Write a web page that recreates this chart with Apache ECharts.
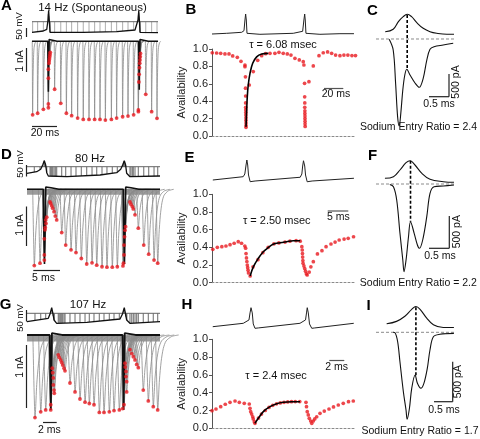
<!DOCTYPE html>
<html><head><meta charset="utf-8">
<script src="https://cdn.jsdelivr.net/npm/echarts@6/dist/echarts.min.js"></script>
<style>html,body{margin:0;padding:0;background:#fff}#c{width:480px;height:439px}</style>
</head><body><div id="c"></div>
<script>
// ================= DATA =================
// Na-current transient shape (time after peak in ms, fraction of peak)
const naTemplateT = [-0.3, 0, 0.25, 0.5, 0.8, 1.2, 2, 3];
const naTemplateF = [0, 1, 0.6, 0.35, 0.18, 0.08, 0.02, 0];

// ---- Panel A (14 Hz spontaneous) ----
const aEnd = 100.8;
const aStepV = -11;
const aPeakT = [0.5,4.5,9.1,13.1,13.1,13.1,13.1,13.6,13.8,14.0,14.2,14.4,14.6,18.1,23.0,27.5,31.7,36.5,41.0,45.6,50.1,54.4,58.7,63.5,67.7,72.5,76.8,81.3,85.1,85.1,85.5,85.7,86.0,86.2,86.4,86.6,86.8,91.0,95.7,100.0];
const aPeakI = [-3.34,-3.27,-3.09,-3.02,-2.85,-1.68,-1.27,-1.0,-0.9,-0.8,-0.7,-0.6,-0.5,-2.18,-2.82,-3.27,-3.38,-3.49,-3.55,-3.55,-3.55,-3.55,-3.58,-3.55,-3.49,-3.43,-3.40,-3.34,-3.20,-3.12,-1.85,-1.5,-1.2,-1.0,-0.85,-0.7,-0.55,-2.41,-3.2,-3.5];
const aApT = [0,9,11.8,12.8,13.3,13.8,14.4,15.8,41,67.8,82.4,84.8,85.4,85.9,86.4,87.8,100.8];
const aApV = [-64,-57.5,-49,-2.5,45,-2.5,-64,-69,-64,-61,-52.5,-2.5,42,-2.5,-64,-69,-66];
const aBlackT = [0,12.6,12.9,13.1,13.35,13.7,15,20,85.3,85.6,85.8,86.05,86.4,87.5,93,100.8];
const aBlackI = [0,0,-1.2,-2.29,-1.0,0.08,0.05,0,0,-1.1,-2.2,-1.0,0.08,0.05,0,0];

// ---- Panel B ----
const bEnd = 149;
const bT = [0.3,4.8,9.0,13.4,17.6,21.4,26.2,30.0,34.1,34.1,34.6,34.7,34.8,34.8,34.9,34.9,35.0,35.0,35.1,35.1,35.2,35.2,35.2,38.6,42.7,47.3,51.4,55.5,60,65.1,69.3,73.7,77.9,81.7,85.8,90.3,94.4,95.1,95.8,95.9,96.0,96.0,96.1,96.1,96.2,96.2,96.3,96.3,96.4,100.3,104.8,110.7,115.1,119.6,123.8,127.9,132.4,136.5,140.6,144.8,148.5];
const bA = [.957,.954,.95,.943,.943,.92,.904,.858,.816,.797,.68,.55,.46,.38,.33,.30,.27,.24,.21,.18,.15,.12,.10,.586,.74,.87,.923,.946,.95,.95,.962,.95,.943,.93,.893,.874,.854,.816,.606,.45,.38,.33,.29,.26,.23,.20,.17,.14,.11,.624,.805,.923,.957,.966,.95,.93,.923,.93,.93,.925,.925];
const bFitT = [35.2,35.9,36.5,37.5,39.3,42.1,46.2,51.4,58.2];
const bFitA = [.107,.30,.45,.586,.72,.836,.91,.943,.95];
const bApT = [0,15.2,30.7,33.1,34.1,34.8,35.5,36.2,37.5,49.6,84.1,93.8,95.1,95.9,96.5,97.2,98.6,111.7,132.4,146.9];
const bApV = [-65,-62.2,-58.2,-51.8,-9,15,-9,-62.2,-69,-66.2,-62.2,-54.2,-9,15,-9,-62.2,-69,-66.2,-63.8,-63.8];

// ---- Panel C ----
const cT = [0.33,0.43,0.49,0.54,0.58,0.62,0.67,0.72,0.77,0.85,0.98,1.08,1.18,1.27,1.35,1.45,1.68,1.93];
const cI = [-7,-239,-963,-1688,-1891,-1616,-1109,-783,-659,-783,-963,-1050,-854,-457,-224,-167,-130,-93];
const cApT = [0.23,0.43,0.56,0.68,0.78,0.89,1.02,1.18,1.35,1.52,1.77,1.95];
const cApV = [-55.8,-46.2,-15.8,4.2,13.8,4.2,-19.8,-42.2,-55.8,-62.2,-66.2,-66.2];
const cPeakT = 0.78, cDashI = [522, -674], cBaseEnd = 1.95;

// ---- Panel D (80 Hz) ----
const dEnd = 24.95;
const dStepV = -31.8;
const dPeakT = [1.37,2.44,3.25,3.25,3.25,3.38,3.43,3.51,3.56,3.70,4.32,4.45,4.63,4.82,5.07,5.31,5.57,6.51,7.26,8.26,9.19,10.19,11.2,12.2,13.08,14.07,15.0,16.0,16.94,18.0,18.1,18.2,18.2,18.3,18.4,18.5,19.32,19.5,19.76,19.94,20.26,20.88,21.9,22.83,23.83,24.52];
const dPeakI = [-1.94,-1.88,-1.80,-1.67,-1.26,-1.03,-0.97,-0.78,-0.87,-0.71,-0.32,-0.36,-0.42,-0.48,-0.57,-0.68,-0.78,-1.10,-1.42,-1.54,-1.61,-1.76,-1.90,-1.87,-1.93,-1.97,-1.98,-1.98,-1.97,-1.95,-1.88,-1.67,-1.42,-1.21,-1.04,-0.95,-0.32,-0.38,-0.44,-0.50,-0.65,-0.99,-1.42,-1.65,-1.80,-1.88];
const dApT = [0,1.82,2.57,2.94,3.25,3.5,3.7,4.0,7.45,13.7,16.83,17.58,17.95,18.25,18.5,18.7,19.32,24.95];
const dApV = [-58.2,-51.8,-42.2,-25,-7.8,-25,-55.8,-69,-71.8,-65,-55.8,-42.2,-25,-7.8,-25,-58.2,-71.8,-69];
const dBlackT = [0,3.05,3.15,3.28,3.4,3.52,4.5,6,18.05,18.15,18.28,18.4,18.52,19.5,21,24.95];
const dBlackI = [0,0,-1.0,-1.9,-1.0,0.06,0.04,0,0,-1.0,-1.9,-1.0,0.06,0.04,0,0];
const dBandI = -0.06;

// ---- Panel E ----
const eEnd = 35.1;
const eT = [0.2,1.3,2.4,3.4,4.4,5.4,6.4,7.2,8.0,8.2,8.3,8.4,8.5,8.6,8.7,8.8,8.9,9.3,10.0,11.2,12.4,13.7,15.1,16.3,17.8,19.0,20.5,21.5,21.9,22.0,22.05,22.1,22.15,22.2,22.4,22.6,22.8,23.0,23.2,23.7,24.1,24.7,25.7,26.8,27.8,29.0,30.0,31.0,32.2,33.2,34.5];
const eA = [.378,.40,.407,.415,.43,.446,.464,.446,.415,.39,.33,.28,.24,.20,.17,.14,.11,.076,.18,.26,.34,.40,.44,.45,.46,.47,.475,.47,.407,.37,.33,.29,.25,.22,.19,.16,.13,.10,.087,.12,.18,.238,.325,.362,.407,.438,.46,.483,.494,.502,.52];
const eFitT = [9.3,10.1,11.3,12.5,13.7,14.9,16.6,18.2,19.8,21.5];
const eFitA = [.076,.181,.276,.351,.396,.434,.452,.464,.475,.475];
const eApT = [0.2,7.6,8.0,8.3,8.5,8.7,8.9,9.3,10.5,21.5,21.9,22.1,22.3,22.6,22.8,23.2,24.4,34.6];
const eApV = [-65,-51.8,-41,-5,15,-5,-45,-71.8,-69,-54,-41,-9,12,-9,-45,-72,-69,-58];

// ---- Panel F ----
const fT = [0.34,0.43,0.51,0.59,0.66,0.69,0.74,0.80,0.85,0.94,1.02,1.07,1.15,1.25,1.33,1.43,1.66,1.92];
const fI = [-8,-42,-248,-764,-1178,-1359,-1178,-817,-584,-764,-945,-997,-868,-507,-144,-42,-31,-16];
const fApT = [0.22,0.43,0.59,0.74,0.84,0.96,1.13,1.33,1.66,1.92];
const fApV = [-55.2,-48.8,-22,7.2,15.2,-2,-35.2,-59.2,-68.8,-71.2];
const fPeakT = 0.85, fDashI = [361, -584], fBaseEnd = 1.92;

// ---- Panel G (107 Hz) ----
const gEnd = 19;
const gStepV = -30.2;
const gPeakT = [1.14,1.96,2.67,3.39,3.39,3.61,3.67,3.76,3.76,3.86,3.9,4.47,4.61,4.81,4.96,5.1,5.29,5.43,6.14,6.86,7.57,8.29,8.9,9.57,10.33,11.0,11.76,12.43,13.19,13.67,13.86,14.0,14.04,14.14,14.14,14.24,14.24,14.71,14.96,15.19,15.43,15.67,15.9,16.61,17.33,18.04,18.67];
const gPeakI = [-1.29,-1.20,-1.17,-1.17,-1.09,-0.52,-0.59,-0.67,-0.78,-0.86,-0.91,-0.31,-0.35,-0.39,-0.43,-0.47,-0.52,-0.56,-0.75,-0.89,-1.0,-1.05,-1.07,-1.09,-1.21,-1.21,-1.20,-1.18,-1.17,-1.15,-1.09,-0.44,-0.5,-0.57,-0.65,-0.73,-0.89,-0.23,-0.29,-0.34,-0.39,-0.46,-0.51,-0.86,-1.03,-1.12,-1.17];
const gApT = [0,3.04,3.29,3.53,3.71,3.86,4.24,8.53,13.29,13.64,13.9,14.07,14.24,14.71,19];
const gApV = [-63.8,-50.2,-33,-7.8,-33,-57,-70.2,-66.2,-53,-33,-7.8,-33,-57,-70.2,-63.8];
const gBlackT = [0,3.25,3.32,3.4,3.48,3.56,5,13.65,13.72,13.8,13.88,13.96,15.5,19];
const gBlackI = [0,0,-0.6,-1.17,-0.6,0.03,0,0,-0.6,-1.17,-0.6,0.03,0,0];
const gBandI = -0.055;

// ---- Panel H ----
const hEnd = 19.2;
const hT = [0,.53,1.16,1.77,2.4,3.07,3.64,4.3,4.97,5.07,5.16,5.29,5.43,5.5,5.64,5.73,6.2,6.6,7.1,7.6,8.1,8.6,9.1,9.6,10.1,10.6,11.1,11.7,12.53,12.6,12.7,12.84,12.97,13.16,13.3,13.5,13.7,13.96,14.4,14.97,15.6,16.2,16.84,17.5,18.2,18.84];
const hA = [.198,.217,.243,.27,.292,.307,.292,.281,.273,.225,.187,.16,.13,.105,.074,.056,.115,.16,.2,.235,.258,.275,.285,.292,.296,.299,.30,.30,.292,.243,.187,.15,.112,.082,.056,.082,.105,.13,.168,.194,.217,.24,.262,.281,.299,.307];
const hFitT = [5.73,6.17,6.84,7.73,8.63,9.51,10.6,11.73];
const hFitA = [.056,.112,.187,.243,.276,.292,.299,.299];
const hApT = [0.1,4.17,4.93,5.07,5.2,5.37,5.5,5.73,6.17,11.73,12.47,12.6,12.7,12.84,13.0,13.3,13.7,18.9];
const hApV = [-65,-51.4,-38,-10,11,-10,-54,-71.4,-70,-51.4,-38,-10,11,-10,-54,-71.4,-70,-51.4];

// ---- Panel I ----
const iT = [0.45,0.5,0.57,0.63,0.72,0.79,0.82,0.88,0.94,1.03,1.09,1.18,1.26,1.35,1.42,1.51,1.68,2.05];
const iI = [0,-5,-118,-368,-743,-971,-1088,-950,-700,-534,-638,-700,-638,-450,-221,-55,-25,-13];
const iApT = [0.28,0.54,0.76,0.94,1.05,1.16,1.33,1.51,1.77,2.05];
const iApV = [-50.2,-41,-21,5.8,16.6,5.8,-27.4,-54.2,-65,-65];
const iPeakT = 1.05, iDashI = [312, -542], iBaseEnd = 2.05;

// ---- texts ----
const titles = ['14 Hz (Spontaneous)', '80 Hz', '107 Hz'];
const tauLabels = ['τ = 6.08 msec', 'τ = 2.50 msec', 'τ = 2.4 msec'];
const ratioLabels = ['Sodium Entry Ratio = 2.4', 'Sodium Entry Ratio = 2.2', 'Sodium Entry Ratio = 1.7'];
const panelLetters = ['A','B','C','D','E','F','G','H','I'];

// ================= BUILD =================
const FONT = "'Liberation Sans', Arial, Helvetica, sans-serif";
const grids = [], xAxes = [], yAxes = [], series = [];
const zip = (a, b) => a.map((v, k) => [v, b[k]]);
function interp(ts, vs, t) {
  if (t <= ts[0]) return vs[0];
  for (let k = 1; k < ts.length; k++) {
    if (t <= ts[k]) { const f = (t - ts[k-1]) / (ts[k] - ts[k-1]); return vs[k-1] + f * (vs[k] - vs[k-1]); }
  }
  return vs[vs.length - 1];
}
function addGrid(left, top, width, height, xmin, xmax, ymin, ymax, ex, ey) {
  const i = grids.length;
  grids.push({left, top, width, height, containLabel: false});
  xAxes.push(Object.assign({type: 'value', gridIndex: i, min: xmin, max: xmax, show: false, splitLine: {show: false}}, ex || {}));
  yAxes.push(Object.assign({type: 'value', gridIndex: i, min: ymin, max: ymax, show: false, splitLine: {show: false}}, ey || {}));
  return i;
}
function line(gi, data, style, extra) {
  series.push(Object.assign({type: 'line', xAxisIndex: gi, yAxisIndex: gi, data, symbol: 'none', showSymbol: false,
    silent: true, animation: false, z: 3, clip: false, lineStyle: style}, extra || {}));
}
function dots(gi, data, size) {
  series.push({type: 'scatter', xAxisIndex: gi, yAxisIndex: gi, data, symbol: 'circle', symbolSize: size || 4,
    itemStyle: {color: '#e8191f'}, silent: true, animation: false, z: 6});
}
function transients(gi, data, color, width) {
  series.push({type: 'custom', xAxisIndex: gi, yAxisIndex: gi, data, silent: true, animation: false, z: 2,
    encode: {x: 0, y: 1},
    renderItem: (p, api) => {
      const t = api.value(0), pk = api.value(1);
      const pts = naTemplateT.map((dt, k) => api.coord([t + dt, pk * naTemplateF[k]]));
      return {type: 'polyline', shape: {points: pts, smooth: 0.25}, style: {stroke: color, lineWidth: width, fill: null}};
    }});
}
function comb(gi, times, top, apT, apV, color, w) {
  series.push({type: 'custom', xAxisIndex: gi, yAxisIndex: gi, data: times.map(t => [t, top]), silent: true, animation: false, z: 2,
    encode: {x: 0, y: 1},
    renderItem: (p, api) => {
      const t = api.value(0);
      const a = api.coord([t, top]), b = api.coord([t, interp(apT, apV, t)]);
      return {type: 'line', shape: {x1: a[0], y1: a[1], x2: b[0], y2: b[1]}, style: {stroke: color, lineWidth: w}};
    }});
}
const availX = {show: true, axisLine: {show: true, onZero: false, lineStyle: {color: '#8a8a8a', width: 1, type: [2, 2]}},
  axisTick: {show: false}, axisLabel: {show: false}};
const availY = {show: true, interval: 0.2, axisLine: {show: true, lineStyle: {color: '#555', width: 1}},
  axisTick: {show: true, length: 3, lineStyle: {color: '#555'}},
  axisLabel: {show: true, fontSize: 11, color: '#222', margin: 4, fontFamily: FONT, formatter: v => v.toFixed(1)},
  name: 'Availability', nameLocation: 'middle', nameGap: 25, nameRotate: 90,
  nameTextStyle: {fontSize: 11, color: '#222', fontFamily: FONT}};

const black = (w) => ({color: '#111', width: w});

// --- trace panels A, D, G ---
function tracePanel(vRect, iRect, end, vRange, iRange, stepV, peakT, peakI, apT, apV, blackT, blackI, bandI, blackW, combColor, combW) {
  const gv = addGrid(vRect[0], vRect[1], vRect[2], vRect[3], 0, end, vRange[0], vRange[1]);
  const gi = addGrid(iRect[0], iRect[1], iRect[2], iRect[3], 0, end, iRange[0], iRange[1]);
  comb(gv, peakT, stepV, apT, apV, combColor, combW);
  line(gv, [[0, stepV], [end, stepV]], {color: '#666', width: 1});
  line(gv, zip(apT, apV), black(1.3), {z: 4});
  if (bandI !== null) line(gi, [[0, bandI], [end, bandI]], {color: '#9c9c9c', width: 6}, {z: 1});
  transients(gi, zip(peakT, peakI), '#8a8a8a', 0.8);
  line(gi, zip(blackT, blackI), black(blackW), {z: 4});
  dots(gi, zip(peakT, peakI), 3.8);
}
tracePanel([32, 5, 126, 33], [32, 38, 126, 88], aEnd, [-92.5, 72.5], [-3.85, 0.15], aStepV, aPeakT, aPeakI, aApT, aApV, aBlackT, aBlackI, null, 1.6, '#999', 0.8);
tracePanel([27, 150, 133, 30], [27, 180, 133, 92], dEnd, [-85, 35], [-2.104, 0.237], dStepV, dPeakT, dPeakI, dApT, dApV, dBlackT, dBlackI, dBandI, 1.6, '#777', 1.1);
tracePanel([27, 300, 133, 26], [27, 325, 133, 95], gEnd, [-81, 23], [-1.328, 0.156], gStepV, gPeakT, gPeakI, gApT, gApV, gBlackT, gBlackI, gBandI, 1.8, '#777', 1.1);

// --- availability panels B, E, H ---
function availPanel(apRect, apRange, rect, end, apT, apV, t, a, fitT, fitA) {
  const gv = addGrid(apRect[0], apRect[1], apRect[2], apRect[3], 0, end, apRange[0], apRange[1]);
  const g = addGrid(rect[0], rect[1], rect[2], rect[3], 0, end, 0, 1, availX, availY);
  line(gv, zip(apT, apV), {color: '#222', width: 1});
  dots(g, zip(t, a), 3.7);
  line(g, zip(fitT, fitA), {color: '#000', width: 1.6}, {smooth: 0.35, z: 7});
}
availPanel([212, 5, 144, 35], [-89, 51], [212, 49, 144, 87], bEnd, bApT, bApV, bT, bA, bFitT, bFitA);
availPanel([212, 150, 144, 35], [-85, 55], [212, 194.3, 144, 88.4], eEnd, eApT, eApV, eT, eA, eFitT, eFitA);
availPanel([212, 297, 144, 36], [-90.2, 53.8], [212, 339.3, 144, 89], hEnd, hApT, hApV, hT, hA, hFitT, hFitA);

// --- waveform panels C, F, I ---
function wavePanel(apRect, apRange, rect, iRange, xmax, apT, apV, t, i, peakT, dashI, baseEnd) {
  const gv = addGrid(apRect[0], apRect[1], apRect[2], apRect[3], 0, xmax, apRange[0], apRange[1]);
  const g = addGrid(rect[0], rect[1], rect[2], rect[3], 0, xmax, iRange[0], iRange[1]);
  line(g, [[0, 0], [baseEnd, 0]], {color: '#8a8a8a', width: 1, type: [3, 2]}, {z: 2});
  line(gv, zip(apT, apV), black(1.1), {smooth: 0.4});
  line(g, zip(t, i), black(1.1), {smooth: 0.35});
  line(g, [[peakT, dashI[0]], [peakT, dashI[1]]], {color: '#000', width: 1.6, type: [3, 2]}, {z: 5});
}
wavePanel([376, 5, 80, 35], [-89, 51], [376, 10, 80, 121], [-2000, 630], 2, cApT, cApV, cT, cI, cPeakT, cDashI, cBaseEnd);
wavePanel([376, 150, 80, 40], [-102, 58], [376, 150, 80, 130], [-1488, 527], 1.97, fApT, fApV, fT, fI, fPeakT, fDashI, fBaseEnd);
wavePanel([376, 297, 80, 36], [-86.2, 53.8], [376, 300, 80, 125], [-1159, 404], 2.105, iApT, iApV, iT, iI, iPeakT, iDashI, iBaseEnd);

// --- graphic: labels & scale bars ---
const G = [];
function txt(s, x, y, size, opts) {
  opts = opts || {};
  G.push({type: 'text', x, y, rotation: opts.rot || 0, silent: true, z: 100,
    style: {text: s, fill: opts.color || '#111', font: (opts.bold ? 'bold ' : '') + size + 'px ' + FONT,
      textAlign: 'center', textVerticalAlign: 'middle', align: 'center', verticalAlign: 'middle'}});
}
function bar(x1, y1, x2, y2, color) {
  G.push({type: 'line', silent: true, z: 100, shape: {x1, y1, x2, y2}, style: {stroke: color || '#222', lineWidth: 1.2}});
}
const letterPos = [[6.5, 6], [191, 9.5], [372.5, 11], [6.5, 155], [189.5, 157.5], [372.5, 156], [5.5, 305], [187, 305], [368.5, 306]];
panelLetters.forEach((L, k) => txt(L, letterPos[k][0], letterPos[k][1], 15, {bold: true, color: '#000'}));
txt(titles[0], 92.5, 8, 11.5); txt(titles[1], 90, 158.5, 11.5); txt(titles[2], 88, 304.5, 11.5);
txt(tauLabels[0], 283, 44.5, 11); txt(tauLabels[1], 276.7, 220.7, 11); txt(tauLabels[2], 276, 376, 11);
txt(ratioLabels[0], 418.5, 127, 10.5); txt(ratioLabels[1], 418.3, 282.7, 10.5); txt(ratioLabels[2], 420, 430.7, 10.5);
const R = Math.PI / 2;
// A scale bars
txt('50 mV', 19.5, 26, 9.5, {rot: R}); bar(26.5, 28, 26.5, 37);
txt('1 nA', 20, 61, 10.5, {rot: R}); bar(26.5, 48, 26.5, 72);
txt('20 ms', 45, 133, 10.5); bar(32, 126.5, 57, 126.5);
// D
txt('50 mV', 20.5, 164, 9.5, {rot: R}); bar(26.5, 165, 26.5, 176.5);
txt('1 nA', 20.5, 225, 10.5, {rot: R}); bar(26.5, 206.5, 26.5, 246);
txt('5 ms', 43.5, 278.5, 10.5); bar(33.3, 270.5, 60, 270.5);
// G
txt('50 mV', 20, 318, 9.5, {rot: R}); bar(26.5, 310, 26.5, 321.5);
txt('1 nA', 20, 367, 10.5, {rot: R}); bar(26.5, 345, 26.5, 408);
txt('2 ms', 49.3, 430, 10.5); bar(43, 422.5, 56.7, 422.5);
// B, E, H time bars
txt('20 ms', 336, 94.5, 10.5); bar(324, 88.5, 343.3, 88.5, '#555');
txt('5 ms', 338.3, 217, 10.5); bar(327.7, 211, 348.3, 211, '#555');
txt('2 ms', 336.7, 367, 10.5); bar(329.3, 360.5, 344.3, 360.5, '#555');
// C, F, I scale bars
txt('500 pA', 456.5, 82, 10.5, {rot: R}); txt('0.5 ms', 439, 104.5, 10.5);
bar(449, 74, 449, 96.7); bar(429, 96.7, 449, 96.7);
txt('500 pA', 456.7, 231.7, 10.5, {rot: R}); txt('0.5 ms', 440, 256, 10.5);
bar(449.3, 216, 449.3, 248.3); bar(429, 248.3, 449.3, 248.3);
txt('500 pA', 458.3, 381.7, 10.5, {rot: R}); txt('0.5 ms', 444, 410, 10.5);
bar(452.7, 361.7, 452.7, 401.7); bar(434, 401.7, 452.7, 401.7);

const chart = echarts.init(document.getElementById('c'), null, {renderer: 'canvas', width: 480, height: 439});
chart.setOption({
  animation: false,
  backgroundColor: '#fff',
  textStyle: {fontFamily: FONT},
  grid: grids, xAxis: xAxes, yAxis: yAxes, series,
  graphic: {elements: G}
});
</script></body></html>
